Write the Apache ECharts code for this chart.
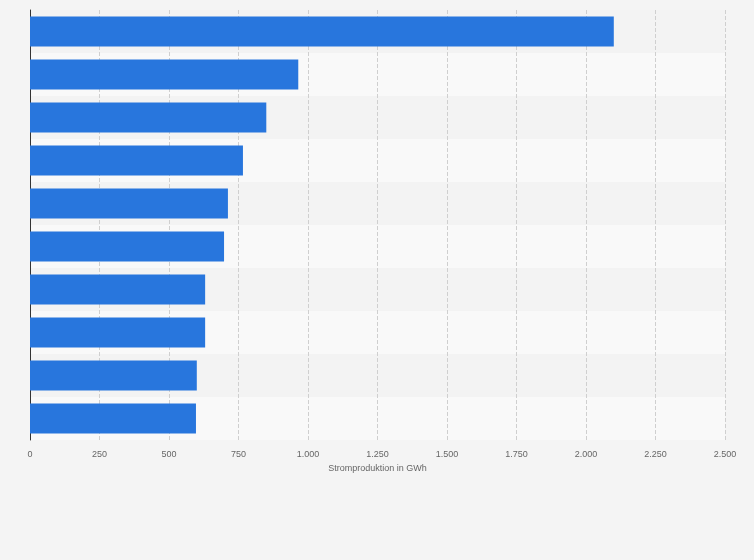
<!DOCTYPE html><html><head><meta charset="utf-8"><script src="https://cdn.jsdelivr.net/npm/echarts@6/dist/echarts.min.js"></script>
<style>html,body{margin:0;background:#f4f4f4}#c{width:754px;height:560px}</style></head><body><div id="c"></div><script>
const categories=['1','2','3','4','5','6','7','8','9','10'];
const values=[2100,965,850,766,712,698,630,630,600,597];
const xTicks=[0,250,500,750,1000,1250,1500,1750,2000,2250,2500];
const fmt=v=>v.toLocaleString('de-DE');
const ch=echarts.init(document.getElementById('c'));
ch.setOption({backgroundColor:'#f4f4f4',animation:false,
grid:{left:30,right:29,top:10,bottom:120},
xAxis:{type:'value',min:0,max:2500,interval:250,name:'Stromproduktion in GWh',nameLocation:'middle',nameGap:22,
nameTextStyle:{fontFamily:'Arial, Liberation Sans',fontSize:9,color:'#666'},
axisLabel:{fontFamily:'Arial, Liberation Sans',fontSize:9,color:'#666',formatter:v=>fmt(v),margin:10},
axisLine:{show:false},axisTick:{show:false},
splitLine:{lineStyle:{type:'dashed',color:'#cfcfcf'}}},
yAxis:{type:'category',data:categories,inverse:true,axisLabel:{show:false},axisTick:{show:false},
axisLine:{lineStyle:{color:'#333'}},splitArea:{show:true,areaStyle:{color:['#f3f3f3','#f9f9f9']}}},
series:[{type:'bar',data:values,barWidth:'70%',itemStyle:{color:'#2876dd'}}]});
</script></body></html>
